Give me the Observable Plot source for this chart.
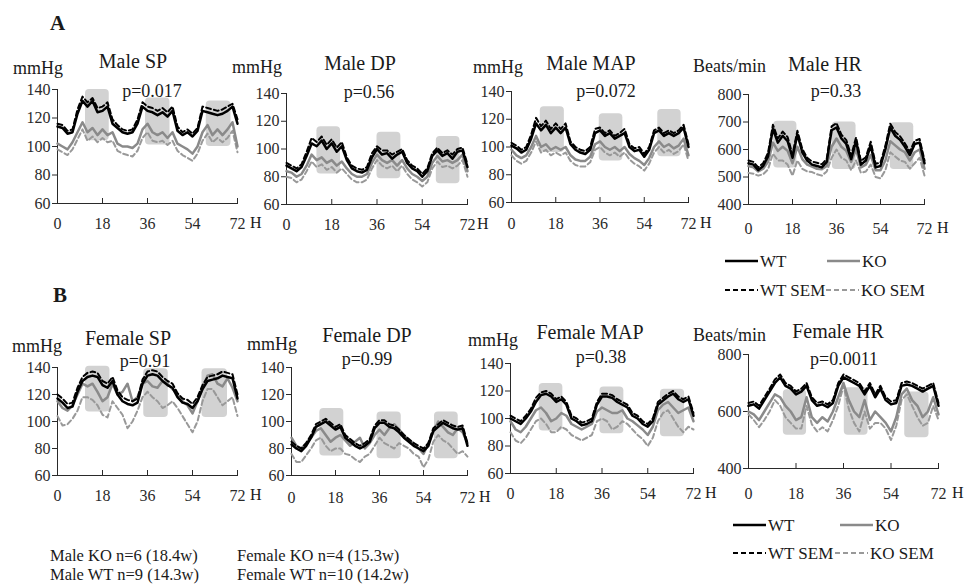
<!DOCTYPE html>
<html><head><meta charset="utf-8">
<script src="https://cdn.jsdelivr.net/npm/d3@7"></script>
<script src="https://cdn.jsdelivr.net/npm/@observablehq/plot@0.6"></script>
<style>
body{margin:0;background:#fff;}
#root{position:relative;width:966px;height:585px;overflow:hidden;background:#fff;}
</style></head><body><div id="root"></div><script>
// ---------- data ----------
const hours = [0,2,4,6,8,10,12,14,16,18,20,22,24,26,28,30,32,34,36,38,40,42,44,46,48,50,52,54,56,58,60,62,64,66,68,70,72];
const xTicks = [0,18,36,54,72];
const bpTicks = [60,80,100,120,140];
const maleHrTicks = [400,500,600,700,800];
const femaleHrTicks = [400,600,800];

const maleSP_WT    = [114,113,109,110,123,132,128,132,124,125,128,116, 113,110,109,110,116,128,125,124,122,124,121,125, 111,108,110,107,111,125,124,123,122,123,125,128,116];
const maleSP_WTsem = [116,115,111,112,126,135,131,134,127,128,131,119, 115,112,111,112,119,131,128,127,125,127,124,128, 114,110,112,109,113,128,127,126,125,126,128,130,119];
const maleSP_KO    = [102,100,98,103,110,117,110,113,108,112,108,110, 102,100,100,99,102,112,116,110,108,110,106,110, 102,100,98,95,100,110,115,108,112,108,112,117,100];
const maleSP_KOsem = [98,96,94,98,105,112,104,107,103,106,103,104, 97,95,94,93,97,106,110,104,103,104,101,104, 97,94,92,90,95,104,109,103,106,103,106,111,96];
const maleSP_dark  = [[11.2,20.7,104,140],[35.2,45,101,134],[59.5,69.4,100,132]];

const maleDP_WT    = [88,86,84,87,95,104,102,106,100,104,98,102, 92,86,84,83,85,94,100,96,97,93,96,98, 90,86,84,80,84,95,99,95,97,93,98,99,87];
const maleDP_WTsem = [90,88,86,89,98,108,105,109,103,107,101,105, 94,88,86,85,87,97,102,99,99,96,98,100, 92,88,86,82,86,97,101,97,99,96,100,101,89];
const maleDP_KO    = [84,83,80,82,88,96,92,94,90,92,88,91, 86,82,80,80,82,90,96,92,90,92,88,92, 86,82,80,77,80,90,95,91,92,90,92,96,84];
const maleDP_KOsem = [80,79,76,78,84,91,87,89,85,87,83,86, 82,78,76,76,78,86,92,88,86,88,84,88, 82,78,76,73,76,86,91,87,88,86,88,92,80];
const maleDP_dark  = [[12.1,21.5,82,116],[36,45.5,78.5,112],[59.6,69,75,109]];

const maleMAP_WT    = [101,99,96,98,106,117,112,116,110,114,110,114, 102,98,96,95,98,110,112,108,110,106,108,110, 100,97,98,93,98,110,112,108,110,108,110,114,100];
const maleMAP_WTsem = [103,101,98,100,109,121,115,119,113,117,113,117, 104,100,98,97,100,113,114,110,112,108,110,113, 102,99,100,95,100,112,114,110,112,110,112,116,102];
const maleMAP_KO    = [98,94,92,94,100,108,100,102,98,100,98,100, 94,91,90,90,93,102,104,100,98,100,97,100, 95,92,90,87,92,100,104,100,102,99,101,106,94];
const maleMAP_KOsem = [94,90,88,90,96,104,96,98,94,96,94,96, 90,87,86,86,89,98,100,96,94,96,93,96, 91,88,86,83,88,96,100,96,98,95,97,102,90];
const maleMAP_dark  = [[11.7,21.5,96,129],[35.7,45.3,90,124],[59.5,69,93,127]];

const maleHR_WT    = [550,545,525,540,575,675,625,650,630,570,655,590, 560,545,540,535,555,670,680,640,620,565,630,545, 560,615,535,540,600,680,650,635,610,580,620,625,550];
const maleHR_WTsem = [560,555,535,550,588,690,640,665,645,582,668,602, 570,556,552,546,566,684,696,654,634,578,644,558, 572,628,548,552,614,694,664,648,622,592,632,638,560];
const maleHR_KO    = [540,535,520,530,555,625,595,610,595,550,610,565, 545,538,530,528,540,610,640,610,595,555,600,535, 545,580,525,525,560,630,615,600,590,560,590,600,530];
const maleHR_KOsem = [515,512,505,510,528,585,560,560,545,505,560,530, 520,518,510,505,520,570,600,570,560,525,560,515, 520,545,500,495,525,590,575,560,555,530,550,570,505];
const maleHR_dark  = [[10.3,19.8,533,703],[34.3,44,527,700],[58,67.6,527,697]];

const femaleSP_WT    = [117,114,110,111,122,130,133,134,133,127,125,130, 120,115,113,112,114,128,134,135,134,130,127,125, 118,114,113,110,115,124,130,131,132,134,133,132,117];
const femaleSP_WTsem = [120,117,113,114,125,133,136,137,136,130,128,133, 123,118,116,115,117,131,137,138,137,133,130,128, 121,117,116,113,118,127,133,134,135,137,136,135,120];
const femaleSP_KO    = [115,110,108,112,120,128,126,128,122,115,118,128, 120,122,128,115,118,128,130,126,125,130,128,124, 120,115,112,106,115,124,134,135,128,126,132,125,115];
const femaleSP_KOsem = [104,97,98,102,108,118,118,116,112,105,103,115, 110,105,95,100,108,118,122,118,115,110,112,115, 110,104,98,92,100,115,124,124,118,112,115,118,104];
const femaleSP_dark  = [[11.2,21,107,141],[34.5,44.3,103,139],[57.8,68,103,139]];

const femaleDP_WT    = [83,80,78,82,88,96,98,100,97,94,96,88, 85,82,80,82,85,95,99,99,96,95,92,88, 85,82,80,78,82,93,96,99,97,95,94,95,82];
const femaleDP_WTsem = [85,82,80,84,90,98,100,102,99,96,98,90, 87,84,82,84,87,97,101,101,98,97,94,90, 87,84,82,80,84,95,98,101,99,97,96,97,84];
const femaleDP_KO    = [88,82,80,84,88,93,95,90,85,88,90,86, 82,85,88,80,84,90,94,90,95,98,94,90, 86,84,80,76,84,92,100,96,92,90,95,92,84];
const femaleDP_KOsem = [76,70,70,75,80,86,88,82,78,80,80,76, 75,72,70,74,76,82,88,84,82,80,84,82, 80,76,74,66,72,85,90,86,84,80,76,78,74];
const femaleDP_dark  = [[11.6,21.4,74.4,109.6],[35,44.9,72.4,107],[58.5,68.2,72.4,107]];

const femaleMAP_WT    = [100,98,96,100,105,112,117,118,116,112,114,110, 100,98,95,96,98,110,116,116,115,112,110,108, 102,100,96,94,98,110,113,116,118,114,112,114,102];
const femaleMAP_WTsem = [102,100,98,102,107,115,119,120,118,114,116,112, 102,100,97,98,100,112,118,118,117,114,112,110, 104,102,98,96,100,112,115,118,120,116,114,116,104];
const femaleMAP_KO    = [98,92,90,94,100,106,108,104,98,100,104,102, 96,94,92,94,96,105,108,106,104,104,106,100, 98,95,92,88,94,106,110,112,108,104,106,108,98];
const femaleMAP_KOsem = [90,84,82,86,92,98,100,96,90,90,94,92, 88,86,84,86,88,98,100,98,92,94,98,96, 92,88,85,80,86,98,104,106,100,94,90,94,92];
const femaleMAP_dark  = [[11.3,20.6,91,125.5],[35.2,44.6,89,123],[59,68.5,86.7,121.3]];

const femaleHR_WT    = [620,625,610,640,670,700,720,690,680,660,670,690, 640,620,625,615,630,690,720,710,700,690,660,690, 650,680,640,625,630,690,695,690,680,670,680,690,620];
const femaleHR_WTsem = [630,635,620,650,680,712,730,700,690,670,680,700, 650,630,635,625,640,700,730,720,710,700,670,700, 660,690,650,635,640,700,705,700,690,680,690,700,630];
const femaleHR_KO    = [600,590,570,600,630,660,650,620,600,570,580,650, 580,560,580,565,600,650,700,640,600,580,640,570, 600,580,560,530,580,660,680,640,620,580,600,650,590];
const femaleHR_KOsem = [590,570,545,570,600,640,620,580,560,540,540,620, 555,530,545,530,570,620,690,610,560,530,600,540, 560,560,540,500,550,640,660,620,580,550,560,620,570];
const femaleHR_dark  = [[13.2,22,517,676],[36.3,45.3,517,683],[59.2,68.4,508,668]];

const titles = ["Male SP","Male DP","Male MAP","Male HR","Female SP","Female DP","Female MAP","Female HR"];
const units  = ["mmHg","mmHg","mmHg","Beats/min","mmHg","mmHg","mmHg","Beats/min"];
const pValues = ["p=0.017","p=0.56","p=0.072","p=0.33","p=0.91","p=0.99","p=0.38","p=0.0011"];
const legendLabels = ["WT","KO","WT SEM","KO SEM"];
const notes = ["Male KO n=6 (18.4w)","Female KO n=4 (15.3w)","Male WT n=9 (14.3w)","Female WT n=10 (14.2w)"];
const panelLetters = ["A","B"];

const panels = [
  {yDomain:[60,140], yTicks:bpTicks, wt:maleSP_WT, wtSem:maleSP_WTsem, ko:maleSP_KO, koSem:maleSP_KOsem, dark:maleSP_dark},
  {yDomain:[60,140], yTicks:bpTicks, wt:maleDP_WT, wtSem:maleDP_WTsem, ko:maleDP_KO, koSem:maleDP_KOsem, dark:maleDP_dark},
  {yDomain:[60,140], yTicks:bpTicks, wt:maleMAP_WT, wtSem:maleMAP_WTsem, ko:maleMAP_KO, koSem:maleMAP_KOsem, dark:maleMAP_dark},
  {yDomain:[400,800], yTicks:maleHrTicks, wt:maleHR_WT, wtSem:maleHR_WTsem, ko:maleHR_KO, koSem:maleHR_KOsem, dark:maleHR_dark},
  {yDomain:[60,140], yTicks:bpTicks, wt:femaleSP_WT, wtSem:femaleSP_WTsem, ko:femaleSP_KO, koSem:femaleSP_KOsem, dark:femaleSP_dark},
  {yDomain:[60,140], yTicks:bpTicks, wt:femaleDP_WT, wtSem:femaleDP_WTsem, ko:femaleDP_KO, koSem:femaleDP_KOsem, dark:femaleDP_dark},
  {yDomain:[60,140], yTicks:bpTicks, wt:femaleMAP_WT, wtSem:femaleMAP_WTsem, ko:femaleMAP_KO, koSem:femaleMAP_KOsem, dark:femaleMAP_dark},
  {yDomain:[400,800], yTicks:femaleHrTicks, wt:femaleHR_WT, wtSem:femaleHR_WTsem, ko:femaleHR_KO, koSem:femaleHR_KOsem, dark:femaleHR_dark}
];

// ---------- layout (pixels) ----------
const layout = [
  {L:57, R:237, T:89, B:203, pad:14, hx:250, title:[133,68], unit:[13,74], p:[152,97]},
  {L:286,R:467, T:93, B:204, pad:14, hx:477, title:[360,70], unit:[232,73], p:[369,98]},
  {L:511,R:688, T:91, B:202, pad:15, hx:700, title:[591,70], unit:[473,73], p:[606,97]},
  {L:748,R:924, T:94, B:204, pad:18, hx:937, title:[825,71], unit:[693,72], p:[836,97]},
  {L:57, R:237, T:367,B:475, pad:14, hx:250, title:[128,345], unit:[12,352], p:[145,367]},
  {L:291,R:467, T:367,B:475, pad:16, hx:479, title:[367,342], unit:[247,350], p:[367,365]},
  {L:510,R:693, T:363,B:473, pad:14, hx:705, title:[590,339], unit:[468,346], p:[601,363]},
  {L:748,R:938, T:354,B:468, pad:19, hx:952, title:[838,338], unit:[693,341], p:[844,365]}
];
const FONT = '"Liberation Serif","Times New Roman",serif';
const root = document.getElementById("root");

panels.forEach((cfg, i) => {
  const lay = layout[i];
  const fw = lay.R - lay.L, fh = lay.B - lay.T;
  const mL = 50, mT = 12, mR = 16, mB = 36;
  const chart = Plot.plot({
    width: fw + mL + mR, height: fh + mT + mB,
    marginLeft: mL, marginTop: mT, marginRight: mR, marginBottom: mB,
    style: {background: "none", fontFamily: FONT, fontSize: "16px", color: "#2a2a2a", overflow: "visible"},
    x: {domain: [0, 72], ticks: xTicks, tickSize: 0, tickPadding: lay.pad, line: true, label: null},
    y: {domain: cfg.yDomain, ticks: cfg.yTicks, tickSize: 5, tickPadding: 2, line: true, label: null},
    marks: [
      Plot.rect(cfg.dark, {x1: d => d[0], x2: d => d[1], y1: d => d[2], y2: d => d[3], fill: "#d2d2d2", rx: 4}),
      Plot.line(hours, {x: d => d, y: cfg.koSem, stroke: "#999", strokeWidth: 2, strokeDasharray: "5,3"}),
      Plot.line(hours, {x: d => d, y: cfg.ko, stroke: "#8a8a8a", strokeWidth: 2.5}),
      Plot.line(hours, {x: d => d, y: cfg.wtSem, stroke: "#000", strokeWidth: 2, strokeDasharray: "5,3"}),
      Plot.line(hours, {x: d => d, y: cfg.wt, stroke: "#000", strokeWidth: 2.5}),
      Plot.tickX(xTicks, {x: d => d, insetTop: fh - 5, stroke: "#2a2a2a"})
    ]
  });
  chart.style.position = "absolute";
  chart.style.left = (lay.L - mL) + "px";
  chart.style.top = (lay.T - mT) + "px";
  root.appendChild(chart);
});

// ---------- text overlay ----------
const ov = d3.select(root).append("svg")
  .attr("width", 966).attr("height", 585)
  .style("position", "absolute").style("left", 0).style("top", 0)
  .style("pointer-events", "none").style("font-family", FONT);
function txt(s, x, y, size, anchor = "start", weight = "normal") {
  ov.append("text").attr("x", x).attr("y", y).attr("font-size", size)
    .attr("text-anchor", anchor).attr("font-weight", weight).attr("fill", "#1a1a1a").text(s);
}
txt(panelLetters[0], 50, 30, 21, "start", "bold");
txt(panelLetters[1], 53, 302, 21, "start", "bold");
panels.forEach((cfg, i) => {
  const lay = layout[i];
  txt(titles[i], lay.title[0], lay.title[1], 20, "middle");
  txt(units[i], lay.unit[0], lay.unit[1], 18, "start");
  txt(pValues[i], lay.p[0], lay.p[1], 18, "middle");
  txt("H", lay.hx, lay.B + lay.pad + 11.4, 16, "start");
});

function legend(x0, y1, y2, kx, kx2) {
  ov.append("line").attr("x1", x0).attr("x2", x0 + 33).attr("y1", y1).attr("y2", y1).attr("stroke", "#000").attr("stroke-width", 2.4);
  txt(legendLabels[0], x0 + 35, y1 + 6, 17);
  ov.append("line").attr("x1", kx).attr("x2", kx + 33).attr("y1", y1).attr("y2", y1).attr("stroke", "#8a8a8a").attr("stroke-width", 2.4);
  txt(legendLabels[1], kx + 35, y1 + 6, 17);
  ov.append("line").attr("x1", x0).attr("x2", x0 + 33).attr("y1", y2).attr("y2", y2).attr("stroke", "#000").attr("stroke-width", 2).attr("stroke-dasharray", "5,3");
  txt(legendLabels[2], x0 + 35, y2 + 6, 17);
  ov.append("line").attr("x1", kx2).attr("x2", kx2 + 33).attr("y1", y2).attr("y2", y2).attr("stroke", "#999").attr("stroke-width", 2).attr("stroke-dasharray", "5,3");
  txt(legendLabels[3], kx2 + 35, y2 + 6, 17);
}
legend(725, 261, 290, 827, 826);
legend(733, 525, 553, 840, 835);

txt(notes[0], 50, 561, 16.5);
txt(notes[1], 237, 561, 16.5);
txt(notes[2], 50, 580, 16.5);
txt(notes[3], 237, 580, 16.5);
</script></body></html>
